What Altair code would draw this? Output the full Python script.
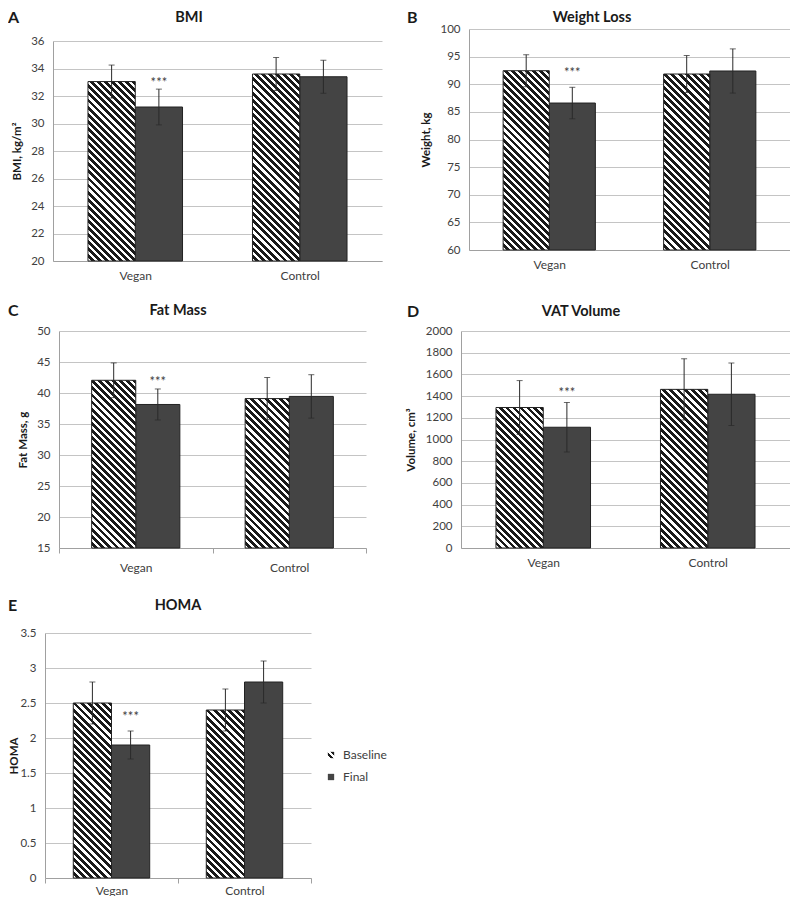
import math
import altair as alt
import pandas as pd

# ---------------- data ----------------
groups = ["Vegan", "Control"]
series = ["Baseline", "Final"]
# order of values: Vegan-Baseline, Vegan-Final, Control-Baseline, Control-Final
bmi_mean = [33.05, 31.2, 33.6, 33.4]
bmi_err = [1.2, 1.3, 1.2, 1.2]
weight_mean = [92.45, 86.6, 91.85, 92.4]
weight_err = [2.9, 2.85, 3.35, 4.0]
fat_mean = [42.05, 38.15, 39.1, 39.45]
fat_err = [2.8, 2.5, 3.4, 3.5]
vat_mean = [1295, 1113, 1462, 1417]
vat_err = [248, 228, 282, 288]
homa_mean = [2.5, 1.9, 2.4, 2.8]
homa_err = [0.3, 0.2, 0.3, 0.3]

panel_letters = ["A", "B", "C", "D", "E"]
panel_titles = ["BMI", "Weight Loss", "Fat Mass", "VAT Volume", "HOMA"]
y_titles = ["BMI, kg/m²", "Weight, kg", "Fat Mass, g", "Volume, cm³", "HOMA"]
bmi_ticks = [20, 22, 24, 26, 28, 30, 32, 34, 36]
weight_ticks = [60, 65, 70, 75, 80, 85, 90, 95, 100]
fat_ticks = [15, 20, 25, 30, 35, 40, 45, 50]
vat_ticks = [0, 200, 400, 600, 800, 1000, 1200, 1400, 1600, 1800, 2000]
homa_ticks = [0, 0.5, 1, 1.5, 2, 2.5, 3, 3.5]
star_values = [33.2, 92.6, 42.3, 1456, 2.34]
star_label = "***"

# ---------------- style ----------------
FONT = "Lato"
TXT = "#404040"
HEAD = "#1a1a1a"
GRID = "#C4C4C4"
AXIS = "#A0A0A0"
FINAL = "#444444"
EDGE = "#222222"
DARK = "#1a1a1a"
ERR = "#2a2a2a"
PAD_OUTER = 0.74

layouts = [
    dict(w=337, h=232, xr=[8, 337], yr=[232, 12], yoff=-8, xoff=0, lpad=9,
         letter=(-37, -11), title=(144, -11), ytx=-36, xticks=False),
    dict(w=329, h=232, xr=[8, 329], yr=[221, 0], yoff=-8, xoff=-11, lpad=9,
         letter=(-54, -11), title=(131, -11), ytx=-43, xticks=False),
    dict(w=337, h=217, xr=[14, 321], yr=[217, 0], yoff=-14, xoff=0, lpad=9,
         letter=(-37, -20), title=(133, -20), ytx=-36, xticks=True),
    dict(w=329, h=217, xr=[0, 329], yr=[217, 0], yoff=0, xoff=0, lpad=9,
         letter=(-54, -19), title=(120, -19), ytx=-50, xticks=False),
    dict(w=337, h=260, xr=[0, 266], yr=[260, 15], yoff=0, xoff=0, lpad=2,
         letter=(-37, -12), title=(133, -12), ytx=-31, xticks=True),
]


def stripe_stops(n, frac):
    stops = []
    for k in range(n):
        a = round(k / n, 5)
        b = round((k + frac) / n, 5)
        c = round((k + 1) / n, 5)
        stops += [(a, DARK), (b, DARK), (b, "#ffffff"), (c, "#ffffff")]
    return stops


def hatch(w, h, period=5.0, frac=0.55):
    r = w / h
    s = (r + 1) / (r * r + 1)
    n = max(1, round((w + h) / (math.sqrt(2) * period)))
    stops = [{"offset": o, "color": c} for o, c in stripe_stops(n, frac)]
    return {"gradient": "linear", "x1": 1, "y1": 0,
            "x2": round(1 - r * s, 5), "y2": round(s, 5), "stops": stops}


# hatched legend swatch (square: 45 degree stripes)
legend_hatch = (
    "{gradient: 'linear', x1: 1, y1: 0, x2: 0, y2: 1, stops: ["
    + ", ".join(f"{{offset: {o}, color: '{c}'}}" for o, c in stripe_stops(2, 0.62))
    + "]}"
)


def panel(i, means, errs, ticks, legend=False):
    lay = layouts[i]
    rows = []
    for gi, g in enumerate(groups):
        for si, s in enumerate(series):
            k = gi * len(series) + si
            rows.append(dict(group=g, series=s, mean=means[k],
                             lo=means[k] - errs[k], hi=means[k] + errs[k]))
    df = pd.DataFrame(rows)
    d0, d1 = ticks[0], ticks[-1]
    xr, yr = lay["xr"], lay["yr"]
    band = (xr[1] - xr[0]) / len(groups)
    barw = band / (len(series) + 2 * PAD_OUTER)
    plot_h = yr[0] - yr[1]

    x_enc = alt.X(
        "group:N", title=None,
        scale=alt.Scale(domain=groups, range=xr, paddingInner=0, paddingOuter=0),
        axis=alt.Axis(labelAngle=0, labelPadding=lay["lpad"], offset=lay["xoff"],
                      ticks=lay["xticks"], tickBand="extent", tickSize=5,
                      tickColor=AXIS, domainColor=AXIS, labelFontSize=12,
                      labelColor=TXT, grid=False, labelFont=FONT),
    )
    xo_enc = alt.XOffset(
        "series:N",
        scale=alt.Scale(domain=series, paddingInner=0, paddingOuter=PAD_OUTER),
    )
    y_scale = alt.Scale(domain=[d0, d1], range=yr, nice=False, zero=False)
    y_axis = alt.Axis(
        values=ticks, format="~r", grid=True, gridColor=GRID, ticks=False,
        domainColor=AXIS, labelPadding=9, offset=lay["yoff"], labelFontSize=11.5,
        labelColor=TXT, labelFont=FONT, title=y_titles[i], titleX=lay["ytx"],
        titleY=(yr[0] + yr[1]) / 2, titleAngle=270, titleAlign="center",
        titleBaseline="middle", titleFontWeight="bold", titleFontSize=11.5,
        titleColor=HEAD, titleFont=FONT,
    )

    def Y(field):
        return alt.Y(field, scale=y_scale, axis=y_axis)

    final_df = df[df.series == "Final"]
    if legend:
        solid = alt.Chart(final_df).mark_bar(stroke=EDGE, strokeWidth=1).encode(
            x=x_enc, xOffset=xo_enc, y=Y("mean:Q"), y2=alt.datum(d0),
            color=alt.Color(
                "series:N",
                scale=alt.Scale(domain=series, range=[{"expr": legend_hatch}, FINAL]),
                legend=alt.Legend(
                    title=None, orient="none", legendX=280, legendY=131,
                    symbolType="square", symbolSize=40, symbolStrokeWidth=0,
                    labelFontSize=12, labelColor=TXT, labelFont=FONT,
                    labelOffset=6, rowPadding=10, padding=0,
                ),
            ),
        )
    else:
        solid = alt.Chart(final_df).mark_bar(
            fill=FINAL, stroke=EDGE, strokeWidth=1
        ).encode(x=x_enc, xOffset=xo_enc, y=Y("mean:Q"), y2=alt.datum(d0))

    layers = [solid]
    for g in groups:
        row = df[(df.group == g) & (df.series == "Baseline")]
        h = (row["mean"].iloc[0] - d0) / (d1 - d0) * plot_h
        layers.append(
            alt.Chart(row).mark_bar(fill=hatch(barw, h), stroke=EDGE, strokeWidth=1)
            .encode(x=x_enc, xOffset=xo_enc, y=Y("mean:Q"), y2=alt.datum(d0))
        )

    layers.append(
        alt.Chart(df).mark_rule(color=ERR, strokeWidth=1).encode(
            x=x_enc, xOffset=xo_enc, y=Y("lo:Q"), y2="hi:Q")
    )
    for f in ["lo:Q", "hi:Q"]:
        layers.append(
            alt.Chart(df).mark_tick(color=ERR, thickness=1, size=6).encode(
                x=x_enc, xOffset=xo_enc, y=Y(f))
        )

    star_df = pd.DataFrame({"group": [groups[0]], "series": [series[1]],
                            "v": [star_values[i]], "t": [star_label]})
    layers.append(
        alt.Chart(star_df).mark_text(fontSize=13, color=TXT, font=FONT,
                                     baseline="middle", dy=3).encode(
            x=x_enc, xOffset=xo_enc, y=Y("v:Q"), text="t:N")
    )

    title_df = pd.DataFrame({"t": [panel_titles[i]]})
    layers.append(
        alt.Chart(title_df).mark_text(fontSize=14.5, fontWeight="bold", color=HEAD,
                                      font=FONT, align="center", baseline="middle")
        .encode(text="t:N", x=alt.value(lay["title"][0]), y=alt.value(lay["title"][1]))
    )
    letter_df = pd.DataFrame({"t": [panel_letters[i]]})
    layers.append(
        alt.Chart(letter_df).mark_text(fontSize=16, fontWeight="bold", color=HEAD,
                                       font=FONT, align="left", baseline="middle")
        .encode(text="t:N", x=alt.value(lay["letter"][0]), y=alt.value(lay["letter"][1]))
    )

    return alt.layer(*layers).properties(width=lay["w"], height=lay["h"])


pA = panel(0, bmi_mean, bmi_err, bmi_ticks)
pB = panel(1, weight_mean, weight_err, weight_ticks)
pC = panel(2, fat_mean, fat_err, fat_ticks)
pD = panel(3, vat_mean, vat_err, vat_ticks)
pE = panel(4, homa_mean, homa_err, homa_ticks, legend=True)

chart = (
    alt.concat(pA, pB, pC, pD, pE, columns=2,
               spacing={"row": 70, "column": 79}, bounds="flush")
    .resolve_scale(color="independent", xOffset="independent",
                   x="independent", y="independent")
    .properties(padding={"top": 2, "left": 0, "right": 0, "bottom": 0})
    .configure(font=FONT)
    .configure_view(stroke=None)
)

chart.save("out.html", embed_options={"renderer": "svg", "actions": False})
